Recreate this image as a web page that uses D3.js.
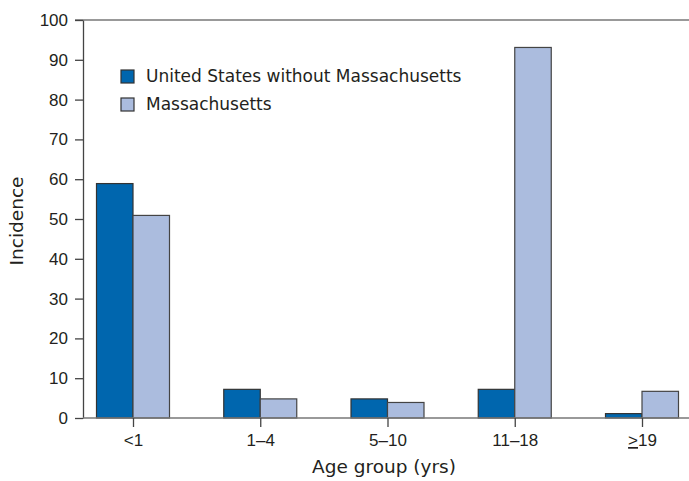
<!DOCTYPE html>
<html>
<head>
<meta charset="utf-8">
<script src="https://cdn.jsdelivr.net/npm/d3@7"></script>
<style>
  body { margin: 0; background: #fff; }
  svg { font-family: "DejaVu Sans", "Liberation Sans", Arial, sans-serif; }
</style>
</head>
<body>
<div id="chart"></div>
<script>
var categories = ['<1', '1–4', '5–10', '11–18', '≥19'];
var seriesNames = ['United States without Massachusetts', 'Massachusetts'];
var usValues = [58.9, 7.2, 4.8, 7.2, 1.1];
var maValues = [50.9, 4.8, 3.9, 93.1, 6.7];
var yTicks = [0, 10, 20, 30, 40, 50, 60, 70, 80, 90, 100];
var colors = ['#0066ae', '#abbcde'];

var width = 689, height = 481;
var axisLeft = 83, axisRight = 689, y0 = 418, y100 = 20;
var barW = 36.5;

var svg = d3.select('#chart').append('svg')
    .attr('width', width)
    .attr('height', height);

var x = d3.scalePoint()
    .domain(categories)
    .range([133, 642]);

var y = d3.scaleLinear()
    .domain([0, 100])
    .range([y0, y100]);

// top frame line at 100
svg.append('line')
    .attr('x1', 75).attr('x2', axisRight)
    .attr('y1', y(100)).attr('y2', y(100))
    .attr('stroke', '#777').attr('stroke-width', 1.3);

// y axis
var yAxis = svg.append('g')
    .attr('transform', 'translate(' + axisLeft + ',0)')
    .call(d3.axisLeft(y).tickValues(yTicks).tickSize(8).tickPadding(7).tickSizeOuter(0));
yAxis.select('.domain').attr('stroke', '#444').attr('stroke-width', 1.3);
yAxis.selectAll('.tick line').attr('stroke', '#444').attr('stroke-width', 1.3);
yAxis.selectAll('.tick text')
    .attr('fill', '#231f20')
    .style('font-size', '17px');

// bars
var groups = svg.selectAll('.grp')
    .data(categories)
    .enter().append('g')
    .attr('class', 'grp');

groups.append('rect')
    .attr('x', d => x(d) - barW)
    .attr('y', (d, i) => y(usValues[i]))
    .attr('width', barW)
    .attr('height', (d, i) => y(0) - y(usValues[i]))
    .attr('fill', colors[0])
    .attr('stroke', '#333')
    .attr('stroke-width', 1.2);

groups.append('rect')
    .attr('x', d => x(d))
    .attr('y', (d, i) => y(maValues[i]))
    .attr('width', barW)
    .attr('height', (d, i) => y(0) - y(maValues[i]))
    .attr('fill', colors[1])
    .attr('stroke', '#444')
    .attr('stroke-width', 1.2);

// x axis
var xAxis = svg.append('g')
    .attr('transform', 'translate(0,' + y0 + ')')
    .call(d3.axisBottom(x).tickSize(9).tickPadding(8).tickSizeOuter(0).tickFormat(''));
xAxis.select('.domain')
    .attr('d', 'M' + axisLeft + ',0H' + axisRight)
    .attr('stroke', '#777').attr('stroke-width', 1.3);
xAxis.selectAll('.tick line').attr('stroke', '#444').attr('stroke-width', 1.3);

xAxis.selectAll('.tick text').remove();
xAxis.selectAll('.tick').append('text')
    .attr('y', 28)
    .attr('text-anchor', 'middle')
    .attr('fill', '#231f20')
    .style('font-size', '17px')
    .each(function(d) {
        var t = d3.select(this);
        if (d === '≥19') {
            t.append('tspan').text('>').style('text-decoration', 'underline');
            t.append('tspan').text('19');
        } else {
            t.text(d);
        }
    });

// axis titles
svg.append('text')
    .attr('x', 384).attr('y', 473)
    .attr('text-anchor', 'middle')
    .attr('fill', '#231f20')
    .style('font-size', '18.5px')
    .text('Age group (yrs)');

svg.append('text')
    .attr('transform', 'translate(23,221) rotate(-90)')
    .attr('text-anchor', 'middle')
    .attr('fill', '#231f20')
    .style('font-size', '18.5px')
    .text('Incidence');

// legend
var legend = svg.selectAll('.legend')
    .data(seriesNames)
    .enter().append('g')
    .attr('class', 'legend')
    .attr('transform', (d, i) => 'translate(121,' + (70 + i * 28) + ')');

legend.append('rect')
    .attr('width', 13).attr('height', 13)
    .attr('fill', (d, i) => colors[i])
    .attr('stroke', '#333')
    .attr('stroke-width', 1.2);

legend.append('text')
    .attr('x', 25).attr('y', 12)
    .attr('fill', '#231f20')
    .style('font-size', '17px')
    .text(d => d);
</script>
</body>
</html>
